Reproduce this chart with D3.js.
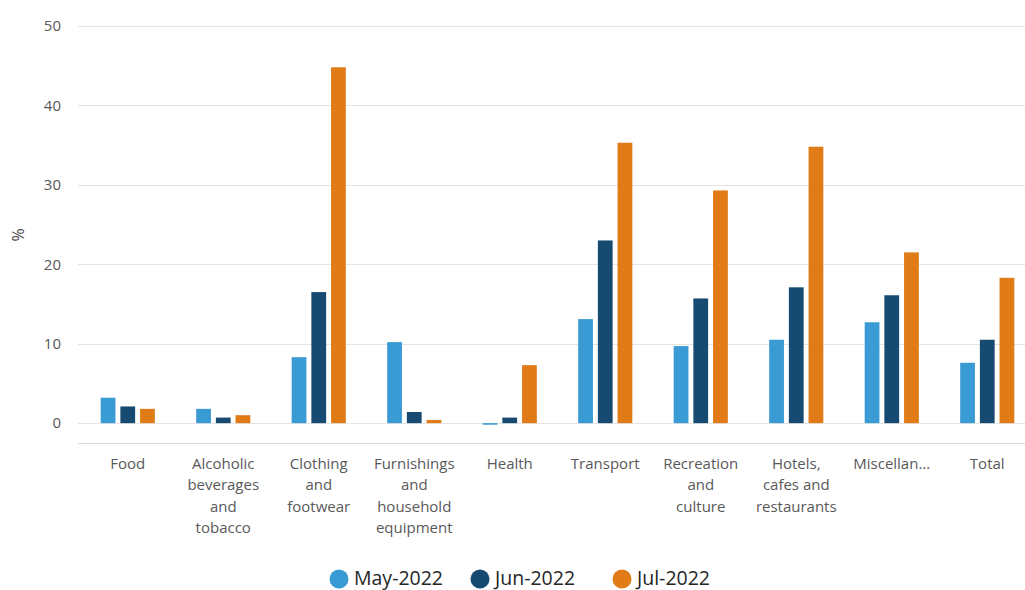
<!DOCTYPE html>
<html>
<head>
<meta charset="utf-8">
<script src="https://cdn.jsdelivr.net/npm/d3@7"></script>
<style>
  html, body { margin: 0; padding: 0; background: #fff; }
  svg { display: block; font-family: "Open Sans", "Noto Sans", sans-serif; }
</style>
</head>
<body>
<svg id="chart" width="1025" height="590"></svg>
<script>
// Monthly change by expenditure group, %
const categories = [
  "Food",
  "Alcoholic beverages and tobacco",
  "Clothing and footwear",
  "Furnishings and household equipment",
  "Health",
  "Transport",
  "Recreation and culture",
  "Hotels, cafes and restaurants",
  "Miscellan...",
  "Total"
];
const categoryLines = [
  ["Food"],
  ["Alcoholic", "beverages", "and", "tobacco"],
  ["Clothing", "and", "footwear"],
  ["Furnishings", "and", "household", "equipment"],
  ["Health"],
  ["Transport"],
  ["Recreation", "and", "culture"],
  ["Hotels,", "cafes and", "restaurants"],
  ["Miscellan..."],
  ["Total"]
];
const seriesNames = ["May-2022", "Jun-2022", "Jul-2022"];
const may2022 = [3.2, 1.8, 8.3, 10.2, -0.2, 13.1, 9.7, 10.5, 12.7, 7.6];
const jun2022 = [2.1, 0.7, 16.5, 1.4, 0.7, 23.0, 15.7, 17.1, 16.1, 10.5];
const jul2022 = [1.8, 1.0, 44.8, 0.4, 7.3, 35.3, 29.3, 34.8, 21.5, 18.3];
const yTicks = [0, 10, 20, 30, 40, 50];
const colors = ["#3a9ad4", "#164a70", "#e07b17"];

const series = [may2022, jun2022, jul2022];

const svg = d3.select("#chart");
const margin = { left: 80, plotBottom: 443 };
const width = 1025;

const x = d3.scaleBand()
  .domain(categories)
  .range([margin.left, 1035])
  .paddingInner(0)
  .paddingOuter(0);

const y = d3.scaleLinear()
  .domain([-2.5, 50])
  .range([margin.plotBottom, 26]);

const xs = d3.scaleBand()
  .domain(seriesNames)
  .range([0, x.bandwidth()])
  .paddingInner(0.25)
  .paddingOuter(1.05);

// gridlines
svg.append("g")
  .selectAll("line")
  .data(yTicks)
  .join("line")
  .attr("x1", 78).attr("x2", width)
  .attr("y1", d => Math.round(y(d)) + 0.5)
  .attr("y2", d => Math.round(y(d)) + 0.5)
  .attr("stroke", "#e4e4e4")
  .attr("stroke-width", 1);

// y-axis labels
const yAxis = d3.axisLeft(y).tickValues(yTicks).tickSize(0).tickPadding(0);
svg.append("g")
  .attr("transform", "translate(61,0)")
  .call(yAxis)
  .call(g => g.select(".domain").remove())
  .call(g => g.selectAll("text")
    .attr("fill", "#595959")
    .attr("font-size", 15)
    .attr("font-family", "'Open Sans', sans-serif"));

svg.append("text")
  .attr("transform", "translate(24,235) rotate(-90)")
  .attr("text-anchor", "middle")
  .attr("fill", "#4d4d4d")
  .attr("font-size", 16)
  .text("%");

// bars
const groups = svg.append("g")
  .selectAll("g")
  .data(categories)
  .join("g")
  .attr("transform", d => `translate(${x(d)},0)`);

groups.selectAll("rect")
  .data((d, i) => series.map((s, k) => ({ name: seriesNames[k], value: s[i], k })))
  .join("rect")
  .attr("x", d => xs(d.name))
  .attr("width", xs.bandwidth())
  .attr("y", d => y(Math.max(0, d.value)))
  .attr("height", d => Math.max(1, Math.abs(y(d.value) - y(0))))
  .attr("fill", d => colors[d.k]);

// x axis baseline
svg.append("line")
  .attr("x1", 78).attr("x2", width)
  .attr("y1", margin.plotBottom + 0.5).attr("y2", margin.plotBottom + 0.5)
  .attr("stroke", "#d9d9d9");

// category labels
const xl = svg.append("g");
categories.forEach((c, i) => {
  const t = xl.append("text")
    .attr("x", x(c) + x.bandwidth() / 2)
    .attr("y", 469)
    .attr("text-anchor", "middle")
    .attr("fill", "#595959")
    .attr("font-size", 15);
  categoryLines[i].forEach((line, j) => {
    t.append("tspan")
      .attr("x", x(c) + x.bandwidth() / 2)
      .attr("dy", j === 0 ? 0 : 21.3)
      .text(line);
  });
});

// legend
const legendX = [339, 480, 622];
const legend = svg.append("g");
seriesNames.forEach((n, k) => {
  legend.append("circle")
    .attr("cx", legendX[k]).attr("cy", 579).attr("r", 9.5)
    .attr("fill", colors[k]);
  legend.append("text")
    .attr("x", legendX[k] + 15).attr("y", 585)
    .attr("fill", "#262626")
    .attr("font-size", 19.5)
    .text(n);
});
</script>
</body>
</html>
